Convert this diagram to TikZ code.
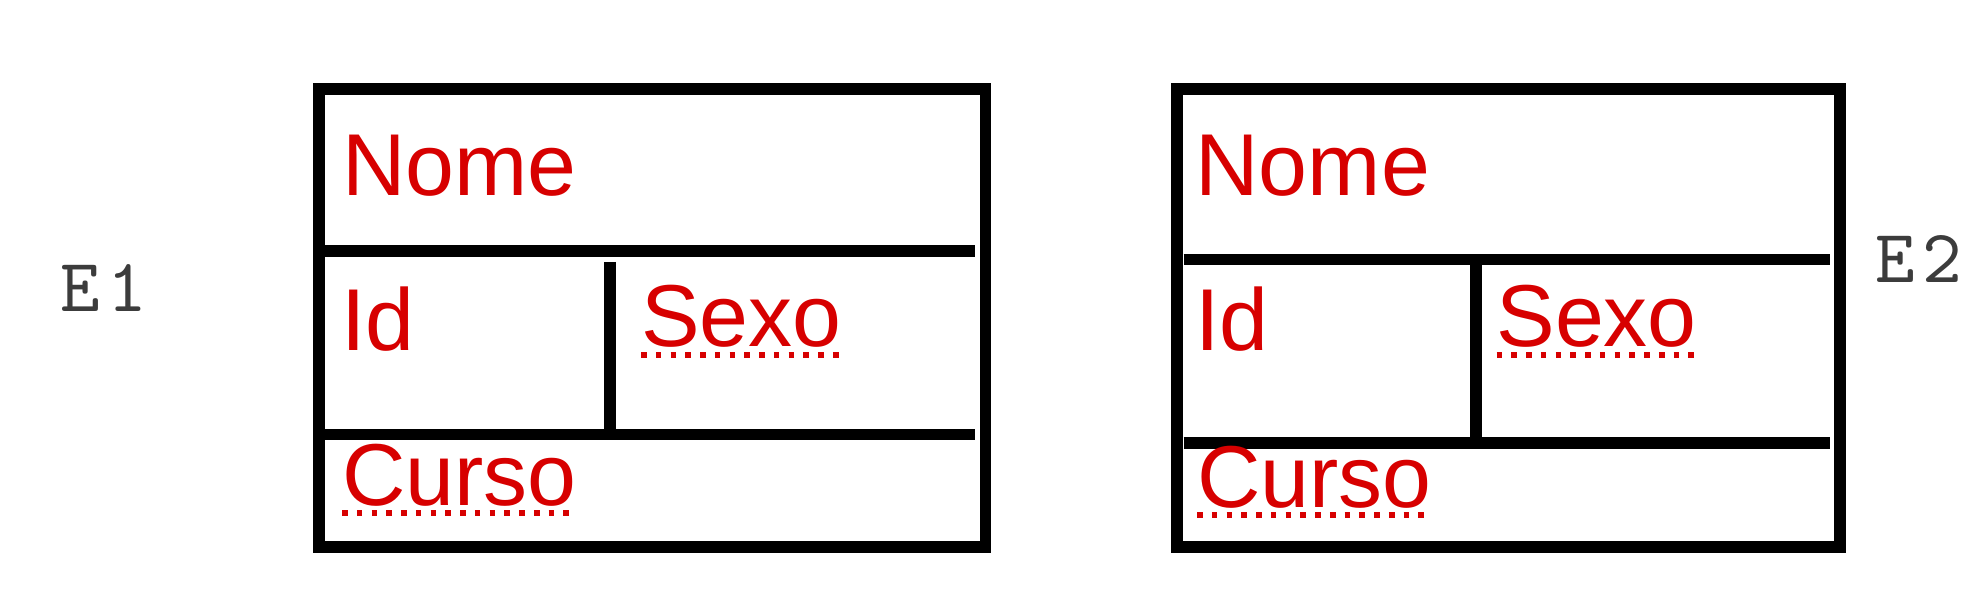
\documentclass[tikz,border=0pt]{standalone}
\usepackage{fontspec}
\setmainfont{Liberation Sans}
\newfontfamily\tagfont{lmmono10-regular.otf}[LetterSpace=9]
\definecolor{fieldred}{RGB}{215, 0, 0}
\definecolor{labelgray}{RGB}{60, 60, 60}

\begin{document}
\begin{tikzpicture}
    \useasboundingbox (0,0) rectangle (19.87,6.12);
    \tikzset{
        frame/.style={draw=black, line width=3.4pt},
        field/.style={text=fieldred, font=\fontsize{25}{25}\selectfont, inner sep=0pt, outer sep=0pt, anchor=base west},
        tag/.style={text=labelgray, font=\tagfont\fontsize{21.5}{21.5}\selectfont, inner sep=0pt, anchor=base west},
        spell/.style={draw=fieldred, line width=1.5pt, dash pattern=on 1.6pt off 2.6pt}
    }
    %% one record per entity: n, left, right, divider 1, divider 2, split x, split top
    \foreach \n/\l/\r/\da/\db/\v/\vt in {1/3.187/9.855/3.61/1.775/6.10/3.50, 2/11.77/18.40/3.525/1.69/14.76/3.525} {
        \draw[frame] (\l,0.65) rectangle (\r,5.232);
        \draw[frame] (\l+0.065,\da) -- (\r-0.105,\da);
        \draw[frame] (\l+0.065,\db) -- (\r-0.105,\db);
        \draw[frame] (\v,\vt) -- (\v,\db);
    }
    \node[field] (nome1) at (3.42,4.16) {Nome};
    \node[field] (id1) at (3.41,2.62) {Id};
    \node[field] (sexo1) at (6.41,2.65) {Sexo};
    \node[field] (curso1) at (3.42,1.07) {Curso};
    \node[field] (nome2) at (11.955,4.16) {Nome};
    \node[field] (id2) at (11.95,2.62) {Id};
    \node[field] (sexo2) at (14.965,2.65) {Sexo};
    \node[field] (curso2) at (11.97,1.05) {Curso};
    %% spell-check underlines
    \foreach \w in {sexo1,curso1,sexo2,curso2} {
        \draw[spell] ([yshift=-0.08cm]\w.base west) -- ([yshift=-0.08cm]\w.base east);
    }
    \node[tag] (e1) at (0.60,3.00) {E1};
    \node[tag] (e2) at (18.75,3.293) {E2};
\end{tikzpicture}
\end{document}
